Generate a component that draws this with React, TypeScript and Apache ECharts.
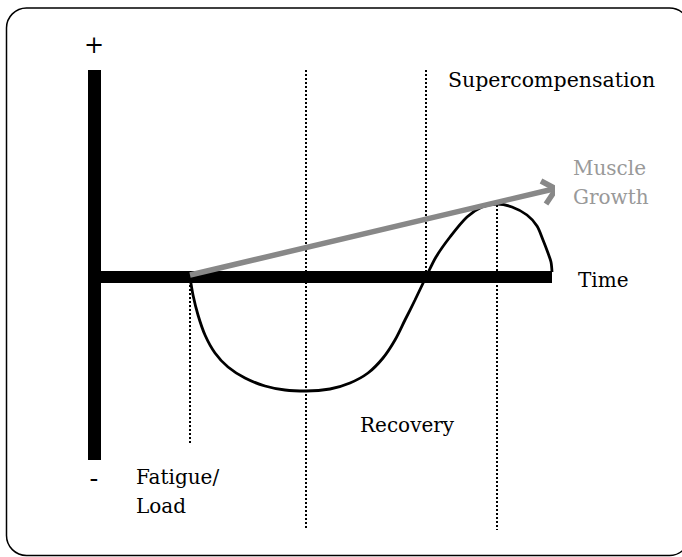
import React, { useEffect, useRef } from "react";
import * as echarts from "echarts";

// Time (x) and performance level (y) in chart units; origin at the axes crossing
const curveX = [95.5, 98.5, 103.5, 110.5, 120.5, 133.5, 150.5, 170.5, 190.5, 211.5, 235.5, 255.5, 273.5, 288.5, 300.5, 310.5, 320.5, 331.5, 341.5, 355.5, 372.5, 387.5, 402.5, 417.5, 432.5, 442.5, 448.5, 453.5, 456.5, 457.5];
const curveY = [0, -18, -38, -58, -76, -90, -101, -109, -113, -114, -112, -106, -96, -81, -63, -43, -23, 0, 20, 40, 60, 70, 73, 70, 62, 51, 37, 24, 15, 5];

const dividerX = [95.5, 211.5, 331.5, 402.5];
const dividerTop = [0, 207, 207, 72];
const dividerBottom = [-168, -253, 0, -253];

const growthStart = [95.5, 2];
const growthEnd = [459, 88];
const arrowHead = [[446.5, 96], [461.5, 88], [451.5, 73]];

const yAxisTop = 207;
const yAxisBottom = -183;

const FONT = "DejaVu Serif";

export default function App() {
  const ref = useRef<HTMLDivElement>(null);
  useEffect(() => {
    if (!ref.current) return;
    const chart = echarts.init(ref.current, null, { renderer: "svg" });
    const dividerSeries = dividerX.map((x, i) => ({
      type: "line",
      data: [[x, dividerTop[i]], [x, dividerBottom[i]]],
      symbol: "none",
      clip: false,
      silent: true,
      z: 1,
      lineStyle: { color: "#000", width: 2, type: [2, 2], cap: "butt" },
    }));
    chart.setOption({
      animation: false,
      backgroundColor: "#fff",
      grid: { left: 94.5, right: 130, top: 70, bottom: 27 },
      xAxis: {
        type: "value",
        min: 0,
        max: 457.5,
        axisLine: { show: true, onZero: true, lineStyle: { color: "#000", width: 12, cap: "butt" } },
        axisTick: { show: false },
        axisLabel: { show: false },
        splitLine: { show: false },
      },
      yAxis: {
        type: "value",
        min: -253,
        max: 207,
        axisLine: { show: false },
        axisTick: { show: false },
        axisLabel: { show: false },
        splitLine: { show: false },
      },
      series: [
        ...dividerSeries,
        {
          type: "line",
          data: [[0, yAxisTop], [0, yAxisBottom]],
          symbol: "none",
          clip: false,
          z: 3,
          lineStyle: { color: "#000", width: 13, cap: "butt" },
        },
        {
          type: "line",
          data: curveX.map((x, i) => [x, curveY[i]]),
          smooth: 0.3,
          symbol: "none",
          clip: false,
          z: 4,
          lineStyle: { color: "#000", width: 2.8 },
        },
        {
          type: "line",
          data: [growthStart, growthEnd],
          symbol: "none",
          clip: false,
          z: 5,
          lineStyle: { color: "#888", width: 5.5, cap: "butt" },
        },
        {
          type: "line",
          data: arrowHead,
          symbol: "none",
          clip: false,
          z: 5,
          lineStyle: { color: "#888", width: 5.5, cap: "butt", join: "miter" },
        },
      ],
      graphic: [
        {
          type: "rect",
          shape: { x: 6.5, y: 8, width: 683, height: 547.5, r: 20 },
          style: { fill: "none", stroke: "#000", lineWidth: 1.5 },
          z: 0,
        },
        { type: "text", x: 94, y: 45, style: { text: "+", font: `24px ${FONT}`, fill: "#000", align: "center", verticalAlign: "middle" } },
        { type: "text", x: 94, y: 478, style: { text: "-", font: `26px ${FONT}`, fill: "#000", align: "center", verticalAlign: "middle" } },
        { type: "text", x: 448, y: 80, style: { text: "Supercompensation", font: `20.5px ${FONT}`, fill: "#000", verticalAlign: "middle" } },
        { type: "text", x: 573, y: 168, style: { text: "Muscle", font: `20px ${FONT}`, fill: "#999", verticalAlign: "middle" } },
        { type: "text", x: 573, y: 197, style: { text: "Growth", font: `20px ${FONT}`, fill: "#999", verticalAlign: "middle" } },
        { type: "text", x: 578, y: 280, style: { text: "Time", font: `20px ${FONT}`, fill: "#000", verticalAlign: "middle" } },
        { type: "text", x: 360, y: 425, style: { text: "Recovery", font: `20px ${FONT}`, fill: "#000", verticalAlign: "middle" } },
        { type: "text", x: 136, y: 477, style: { text: "Fatigue/", font: `20px ${FONT}`, fill: "#000", verticalAlign: "middle" } },
        { type: "text", x: 136, y: 506, style: { text: "Load", font: `20px ${FONT}`, fill: "#000", verticalAlign: "middle" } },
      ],
    });
    return () => chart.dispose();
  }, []);
  return <div ref={ref} style={{ position: "fixed", left: 0, top: 0, width: 682, height: 557 }} />;
}
